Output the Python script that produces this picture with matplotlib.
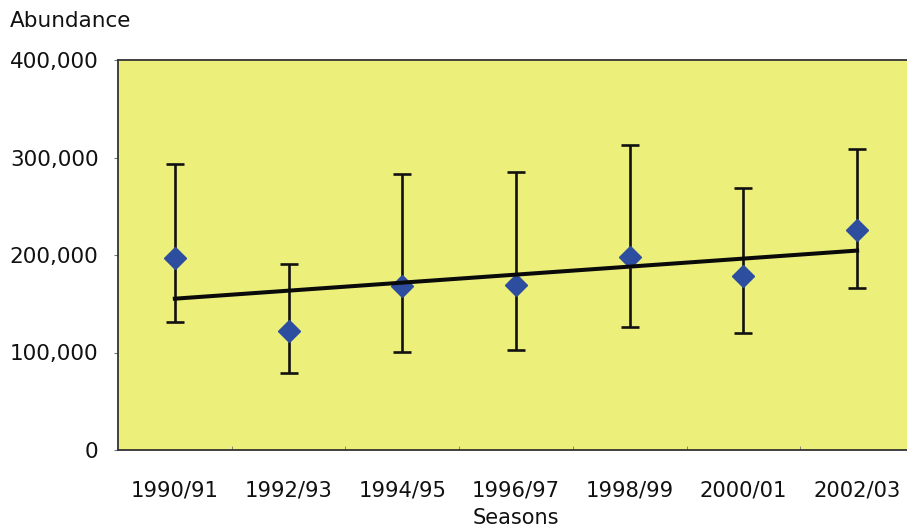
import matplotlib
matplotlib.use("Agg")
from matplotlib import pyplot as plt
from matplotlib.ticker import FuncFormatter
import numpy as np

# data
seasons = ["1990/91", "1992/93", "1994/95", "1996/97", "1998/99", "2000/01", "2002/03"]
abundance = [196600, 122100, 168500, 169200, 198300, 178800, 225600]
upper = [293300, 190500, 282800, 285100, 312500, 269000, 309000]
lower = [131000, 79300, 100500, 102600, 125800, 119700, 166500]

x = np.arange(len(seasons))
y = np.array(abundance)
err = [y - np.array(lower), np.array(upper) - y]

# linear trend
k, b = np.polyfit(x, y, 1)
trend = k * x + b

plt.rcParams["font.family"] = ["DejaVu Sans"]

fig = plt.figure(figsize=(9.07, 5.29), dpi=100)
ax = fig.add_axes([118 / 907, 79 / 529, 796 / 907, 390 / 529])
ax.set_facecolor("#ecef7a")

ax.errorbar(x, y, yerr=err, fmt="none", ecolor="#111111", elinewidth=1.9,
            capsize=6.5, capthick=1.9, zorder=2)
ax.plot(x, y, "D", color="#2d4e9e", markersize=11.5, zorder=3)
ax.plot(x, trend, color="#0a0a0a", linewidth=2.9, zorder=4)

ax.set_xlim(-0.5, len(seasons) - 0.5)
ax.set_ylim(0, 400000)
ax.set_yticks([0, 100000, 200000, 300000, 400000])
ax.yaxis.set_major_formatter(FuncFormatter(lambda v, p: f"{int(v):,}"))
ax.set_xticks(x)
ax.set_xticklabels(seasons)
ax.set_xticks(np.arange(0.5, len(seasons) - 0.5), minor=True)

ax.tick_params(axis="x", which="major", length=0, pad=22, labelsize=15.2, colors="#111111")
ax.tick_params(axis="x", which="minor", direction="in", length=3, color="#777777")
ax.tick_params(axis="y", length=3, pad=11, labelsize=15.5, colors="#111111")
ax.tick_params(axis="y", color="#777777")

for side in ["left", "bottom", "top"]:
    ax.spines[side].set_color("#333333")
    ax.spines[side].set_linewidth(1.3)
ax.spines["right"].set_visible(False)

ax.set_xlabel("Seasons", fontsize=15, color="#111111", labelpad=5)
fig.text(10 / 907, 1 - 21 / 529, "Abundance", fontsize=15.5, color="#111111",
         va="center", ha="left")

plt.savefig("out.png", dpi=100)
